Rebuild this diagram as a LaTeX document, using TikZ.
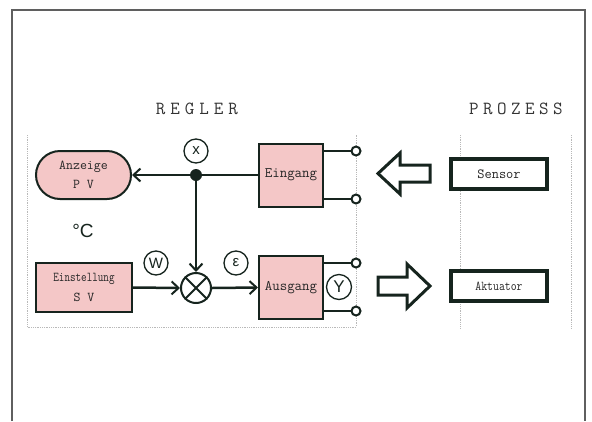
\documentclass[tikz,border=0pt]{standalone}
\usepackage{fontspec}
\usepackage{graphicx}
\newfontfamily\sansf{Liberation Sans}
\newcommand\boxfont{\ttfamily}
% letters set on a fixed pitch, for the spaced headings
\makeatletter
\newcommand\spreadtext[2]{\@tfor\spr@c:=#2\do{\makebox[#1]{\spr@c}}}
\makeatother
\usetikzlibrary{arrows.meta,shapes.misc}
\definecolor{ink}{RGB}{22,36,30}
\definecolor{rose}{RGB}{244,199,199}
\definecolor{framegray}{RGB}{95,95,95}
\begin{document}
\begin{tikzpicture}[x=1pt,y=-1pt,
  block/.style={draw=ink, line width=2pt, fill=rose, inner sep=0pt, align=center,
    text=black!85, font=\boxfont\fontsize{13.5}{19}\selectfont},
  device/.style={draw=ink, line width=3.5pt, fill=white, minimum width=96pt,
    minimum height=30pt, inner sep=0pt, text=black!85, font=\boxfont\fontsize{14}{14}\selectfont},
  tag/.style={circle, draw=ink, line width=1.3pt, fill=white, minimum size=24pt,
    inner sep=0pt, text=ink, font=\sansf\fontsize{15}{15}\selectfont},
  wire/.style={draw=ink, line width=2.5pt},
  tip/.style={-{Straight Barb[length=7pt,width=13pt,line width=2pt]}},
  terminal/.style={circle, draw=ink, line width=2pt, fill=white, minimum size=9pt, inner sep=0pt},
  fence/.style={draw=gray!55, line width=0.8pt, densely dotted},
  hollow/.style={draw=ink, line width=3pt, fill=white, line join=miter},
  heading/.style={text=black!80, inner sep=0pt, font=\ttfamily\fontsize{18.5}{18.5}\selectfont}
]
\useasboundingbox (0,0) rectangle (592,421);

% outer frame (open at the bottom)
\draw[framegray, line width=1.5pt] (12,421) -- (12,10) -- (585,10) -- (585,421);

% dotted zone boundaries
\draw[fence] (27,135) -- (27,327) -- (356,327) -- (356,135);
\draw[fence] (460,135) -- (460,328);
\draw[fence] (571,135) -- (571,328);

% headings
\node[heading] (regler) at (197,109) {\spreadtext{14.5pt}{REGLER}};
\node[heading] (prozess) at (516,109) {\spreadtext{14pt}{PROZESS}};

% controller blocks
\node[block, rounded rectangle, minimum width=95pt, minimum height=48pt] (anz) at (83.5,175) {Anzeige\\P V};
\node[block, minimum width=96pt, minimum height=49pt, font=\boxfont\fontsize{13.5}{20}\selectfont] (einst) at (84,287.5) {\scalebox{0.8}[1]{Einstellung}\\S V};
\node[block, minimum width=64pt, minimum height=63pt, font=\boxfont\fontsize{14.5}{14}\selectfont] (ein) at (291,175) {Eingang};
\node[block, minimum width=64pt, minimum height=63pt, font=\boxfont\fontsize{14.5}{14}\selectfont] (aus) at (291,287.5) {Ausgang};

\node[text=ink, font=\sansf\fontsize{19}{19}\selectfont] (unit) at (83,231) {°C};

% branch point and comparator
\node[circle, fill=ink, minimum size=12pt, inner sep=0pt] (dot) at (196,175) {};
\node[circle, draw=ink, line width=2pt, fill=white, minimum size=30pt, inner sep=0pt] (mix) at (196,288) {};
\draw[ink, line width=2pt] (mix.north west) -- (mix.south east) (mix.north east) -- (mix.south west);

% signal tags
\node[tag] (tx) at (196,151) {x};
\node[tag] (tw) at (156,263) {W};
\node[tag] (te) at (236,263) {ε};
\node[tag, minimum size=25pt, font=\sansf\fontsize{17}{17}\selectfont] (ty) at (339,287) {Y};

% signal lines
\draw[wire, tip] (ein.west) -- (anz.east);
\draw[wire, tip] (dot.center) -- (mix.north);
\draw[wire, tip] (einst.east) -- (mix.west);
\draw[wire, tip] (mix.east) -- (aus.west);

% terminals
\node[terminal] (t1) at (356,151) {};
\node[terminal] (t2) at (356,199) {};
\node[terminal] (t3) at (356,263) {};
\node[terminal] (t4) at (356,311) {};
\draw[wire] (ein.east |- t1) -- (t1);
\draw[wire] (ein.east |- t2) -- (t2);
\draw[wire] (aus.east |- t3) -- (t3);
\draw[wire] (aus.east |- t4) -- (t4);

% process devices
\node[device] (sensor) at (499,174) {Sensor};
\node[device, font=\boxfont\fontsize{13.5}{13}\selectfont] (akt) at (499,286) {\scalebox{0.85}[1]{Aktuator}};

% hollow flow arrows
\draw[hollow] (430,165) -- (400,165) -- (400,153) -- (378,173.5) -- (400,194) -- (400,182) -- (430,182) -- cycle;
\draw[hollow] (378,277) -- (407,277) -- (407,264) -- (430,286) -- (407,308) -- (407,295) -- (378,295) -- cycle;
\end{tikzpicture}
\end{document}
